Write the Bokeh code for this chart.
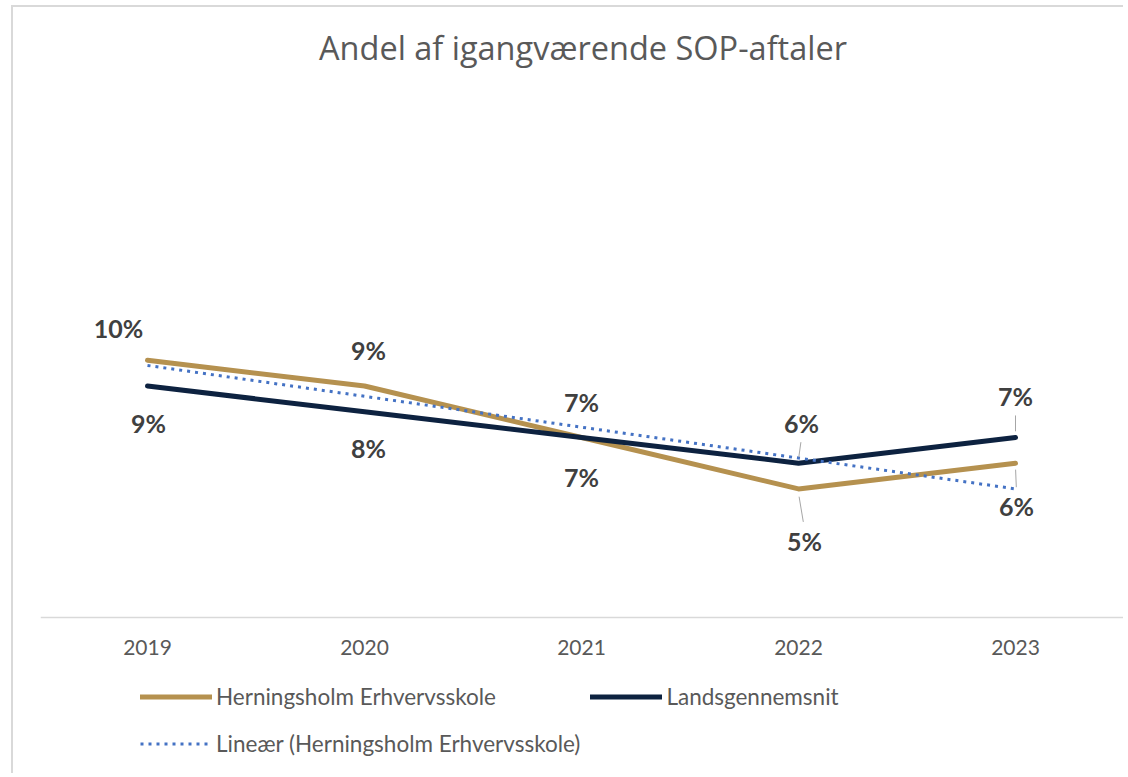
import numpy as np
from bokeh.plotting import figure
from bokeh.models import (ColumnDataSource, LabelSet, Legend, LegendItem,
                          Range1d, FixedTicker)
from bokeh.core.properties import value
from bokeh.embed import file_html
from bokeh.resources import INLINE

# ---------------- data ----------------
years = [2019, 2020, 2021, 2022, 2023]
year_labels = ["2019", "2020", "2021", "2022", "2023"]
herningsholm = [0.10, 0.09, 0.07, 0.05, 0.06]
landsgennemsnit = [0.09, 0.08, 0.07, 0.06, 0.07]
series_names = ["Herningsholm Erhvervsskole", "Landsgennemsnit"]
trend_name = "Lineær (Herningsholm Erhvervsskole)"
title_text = "Andel af igangværende SOP-aftaler"

# ---------------- styles ----------------
GOLD = "#B5914F"
NAVY = "#0D2240"
BLUE = "#4472C4"
LABEL_COLOR = "#404040"
TEXT_COLOR = "#595959"
FONT = "Lato"

# data-label offsets in screen px (style only)
h_dx = [-29, 4, 0, 6, 1]
h_dy = [32, 36, -40, -52, -43]
l_dx = [1, 4, 0, 3, 0]
l_dy = [-37, -36, 35, 40, 41]
h_leader = [False, False, False, True, True]
l_leader = [False, False, False, True, True]

# linear trendline of Herningsholm (least squares, as the spreadsheet does)
slope, intercept = np.polyfit(years, herningsholm, 1)
trend = [slope * x + intercept for x in years]

# ---------------- layout ----------------
W, H = 1112, 768
B_LEFT, B_RIGHT, B_TOP, B_BOTTOM = 27, 0, 72, 5
frame_w = W - B_LEFT - B_RIGHT
frame_h = H - B_TOP - B_BOTTOM
PX_PER_YEAR = 217.0
PX_PER_UNIT = 2572.0          # 25.72 px per percentage point
ZERO_FROM_TOP = 538.0         # px from frame top to the value 0
X0 = 2019 - 107.0 / PX_PER_YEAR
X1 = X0 + frame_w / PX_PER_YEAR
Y1 = ZERO_FROM_TOP / PX_PER_UNIT
Y0 = -(frame_h - ZERO_FROM_TOP) / PX_PER_UNIT
px_x, px_y = PX_PER_YEAR, PX_PER_UNIT

p = figure(width=W, height=H, output_backend="svg", toolbar_location=None,
           x_range=Range1d(X0, X1), y_range=Range1d(Y0, Y1),
           min_border_left=B_LEFT, min_border_right=B_RIGHT,
           min_border_top=B_TOP, min_border_bottom=B_BOTTOM,
           background_fill_color="white", border_fill_color="white")
p.margin = (5, 0, 0, 11)
p.styles = {"border-left": "2px solid #d9d9d9", "border-top": "2px solid #d9d9d9"}
p.outline_line_color = None
p.grid.visible = False
p.yaxis.visible = False

p.title.text = title_text
p.title.align = "center"
p.title.text_font = "Open Sans"
p.title.text_font_size = "32.5px"
p.title.text_font_style = "normal"
p.title.text_color = TEXT_COLOR
p.title.standoff = 20

xa = p.xaxis[0]
xa.fixed_location = 0
xa.ticker = FixedTicker(ticks=years)
xa.major_label_overrides = {y: s for y, s in zip(years, year_labels)}
xa.axis_line_color = "#d9d9d9"
xa.axis_line_width = 1.5
xa.major_tick_line_color = None
xa.minor_tick_line_color = None
xa.major_label_text_font = FONT
xa.major_label_text_font_size = "21px"
xa.major_label_text_color = TEXT_COLOR
xa.major_label_standoff = 16

src = ColumnDataSource(dict(x=years, h=herningsholm, l=landsgennemsnit, t=trend))
r_h = p.line("x", "h", source=src, line_color=GOLD, line_width=5,
             line_cap="round", line_join="round")
r_l = p.line("x", "l", source=src, line_color=NAVY, line_width=5,
             line_cap="round", line_join="round")
r_t = p.line("x", "t", source=src, line_color=BLUE, line_width=3,
             line_dash="3 5")

# leader lines (from point toward its label)
lx0, ly0, lx1, ly1 = [], [], [], []
for xs, ys, dxs, dys, flags in ((years, herningsholm, h_dx, h_dy, h_leader),
                                 (years, landsgennemsnit, l_dx, l_dy, l_leader)):
    for x, y, dx, dy, f in zip(xs, ys, dxs, dys, flags):
        if not f:
            continue
        s = 1 if dy > 0 else -1
        lx0.append(x + dx * 0.1 / px_x)
        ly0.append(y + (dy * 0.15) / px_y)
        lx1.append(x + dx * 0.8 / px_x)
        ly1.append(y + (dy - s * 19) / px_y)
p.segment(lx0, ly0, lx1, ly1, line_color="#a6a6a6", line_width=1)

lab_src = ColumnDataSource(dict(
    x=years + years,
    y=herningsholm + landsgennemsnit,
    text=[f"{round(v * 100)}%" for v in herningsholm + landsgennemsnit],
    dx=h_dx + l_dx,
    dy=h_dy + l_dy,
))
p.add_layout(LabelSet(x="x", y="y", text="text", x_offset="dx", y_offset="dy",
                      source=lab_src, text_align="center", text_baseline="middle",
                      text_font=value(FONT), text_font_size=value("25px"),
                      text_font_style="bold", text_color=LABEL_COLOR))

leg = Legend(items=[LegendItem(label=series_names[0], renderers=[r_h]),
                    LegendItem(label=series_names[1], renderers=[r_l]),
                    LegendItem(label=trend_name, renderers=[r_t])],
             orientation="horizontal", ncols=2, location=(100, 8))
leg.glyph_width = 72
leg.glyph_height = 37
leg.label_height = 37
leg.label_standoff = 4
leg.spacing = 10
leg.padding = 0
leg.margin = 0
leg.border_line_color = None
leg.background_fill_alpha = 0
leg.label_text_font = FONT
leg.label_text_font_size = "22.5px"
leg.label_text_color = TEXT_COLOR
p.add_layout(leg)

open("out.html", "w").write(file_html(p, INLINE))
